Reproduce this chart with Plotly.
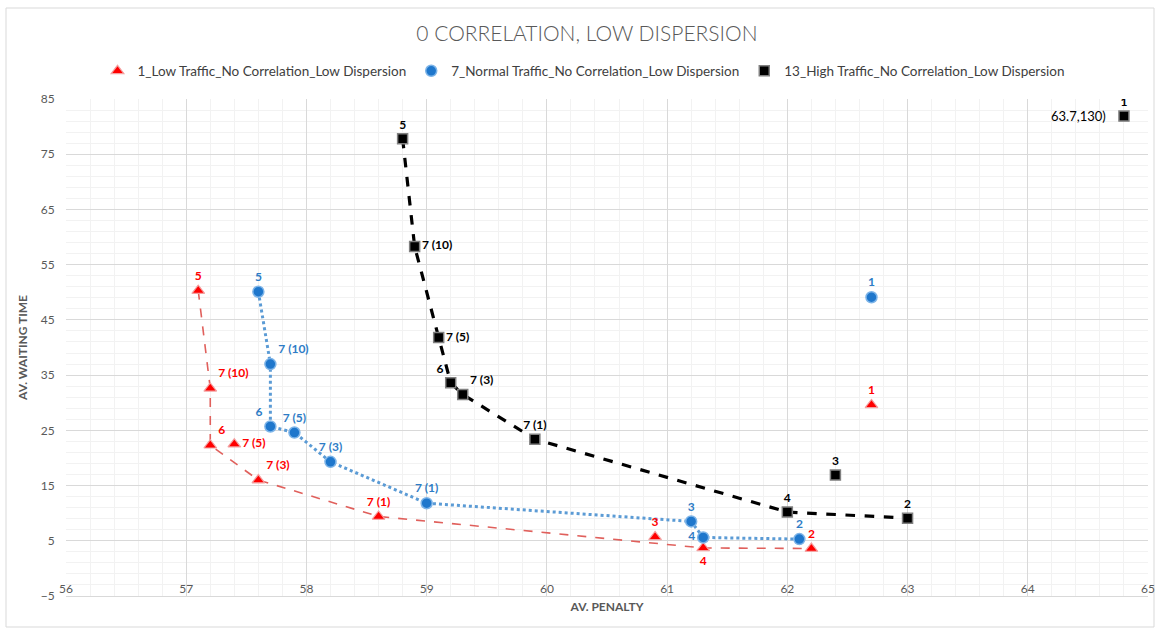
import plotly.graph_objects as go

# Point labels (scenario ids) shared by the three traffic levels
labels = ["1", "2", "3", "4", "5", "6", "7 (1)", "7 (3)", "7 (5)", "7 (10)"]

# Low traffic
low_penalty = [62.7, 62.2, 60.9, 61.3, 57.1, 57.2, 58.6, 57.6, 57.4, 57.2]
low_wait = [29.6, 3.6, 5.7, 3.7, 50.3, 22.3, 9.4, 16.0, 22.5, 32.6]

# Normal traffic
normal_penalty = [62.7, 62.1, 61.2, 61.3, 57.6, 57.7, 59.0, 58.2, 57.9, 57.7]
normal_wait = [49.1, 5.3, 8.5, 5.6, 50.1, 25.7, 11.8, 19.3, 24.6, 37.0]

# High traffic (point 1 is really at 63.7, 130 and is drawn at the chart edge)
high_penalty = [64.8, 63.0, 62.4, 62.0, 58.8, 59.2, 59.9, 59.3, 59.1, 58.9]
high_wait = [81.9, 9.1, 16.9, 10.2, 77.8, 33.6, 23.4, 31.5, 41.8, 58.3]
high_note = "63.7,130)"

# Pareto fronts, as sequences of labels
low_front = ["5", "7 (10)", "6", "7 (3)", "7 (1)", "4", "2"]
normal_front = ["5", "7 (10)", "6", "7 (5)", "7 (3)", "7 (1)", "3", "4", "2"]
high_front = ["5", "7 (10)", "7 (5)", "6", "7 (3)", "7 (1)", "4", "2"]

series_names = [
    "1_Low Traffic_No Correlation_Low Dispersion",
    "7_Normal Traffic_No Correlation_Low Dispersion",
    "13_High Traffic_No Correlation_Low Dispersion",
]

# label placement per point
low_pos = ["top center", "top center", "top center", "bottom center", "top center",
           "top right", "top center", "top right", "middle right", "top right"]
normal_pos = ["top center", "top center", "top center", "middle left", "top center",
              "top left", "top center", "top center", "top center", "top right"]
high_pos = ["top center", "top center", "top center", "top center", "top center",
            "top left", "top center", "top right", "middle right", "middle right"]

FONT = "Lato, 'Open Sans', sans-serif"

styles = [
    dict(color="#FF0000", line=dict(color="#F4A0A0", width=1.2),
         symbol="triangle-up", size=11, text="#FF0000",
         front=dict(color="#E0605C", width=1.6, dash="dash")),
    dict(color="#1F77CC", line=dict(color="#7DB4E8", width=1.5),
         symbol="circle", size=11, text="#2E7CC6",
         front=dict(color="#5B9BD5", width=3, dash="dot")),
    dict(color="#000000", line=dict(color="#808080", width=1.5),
         symbol="square", size=10, text="#000000",
         front=dict(color="#000000", width=3.2, dash="dash")),
]

data = [
    (low_penalty, low_wait, low_front, low_pos),
    (normal_penalty, normal_wait, normal_front, normal_pos),
    (high_penalty, high_wait, high_front, high_pos),
]

fig = go.Figure()

# front lines first, so markers sit on top
for (px, wy, front, _), st in zip(data, styles):
    idx = [labels.index(l) for l in front]
    fig.add_trace(go.Scatter(
        x=[px[i] for i in idx], y=[wy[i] for i in idx],
        mode="lines", line=st["front"], showlegend=False, hoverinfo="skip",
    ))

for (px, wy, _, pos), st, name in zip(data, styles, series_names):
    fig.add_trace(go.Scatter(
        x=px, y=wy, name=name, mode="markers+text",
        text=labels, textposition=pos,
        textfont=dict(family=FONT, size=12, color=st["text"], weight="bold"),
        marker=dict(symbol=st["symbol"], size=st["size"], color=st["color"],
                    line=st["line"]),
    ))

# note beside the clipped high-traffic point
fig.add_annotation(
    x=high_penalty[0], y=high_wait[0], text=high_note, showarrow=False,
    xanchor="right", yanchor="middle", xshift=-16,
    font=dict(family=FONT, size=13, color="#000000"),
)

fig.update_layout(
    width=1168, height=630,
    margin=dict(l=66, r=20, t=99, b=34),
    paper_bgcolor="white", plot_bgcolor="white",
    font=dict(family=FONT, color="#595959"),
    title=dict(text="0 CORRELATION, LOW DISPERSION", x=0.5025, xanchor="center",
               y=1 - 34 / 630, yanchor="middle",
               font=dict(family=FONT, size=21, color="#595959", weight=300)),
    legend=dict(orientation="h", x=0.4783, xanchor="center",
                y=(596 - 71) / 497, yanchor="middle",
                font=dict(family=FONT, size=13.5, color="#404040"),
                itemwidth=30, bgcolor="rgba(0,0,0,0)"),
    showlegend=True,
)

fig.update_xaxes(
    range=[56, 65], dtick=1, tick0=56,
    showgrid=True, gridcolor="#D9D9D9", gridwidth=1,
    minor=dict(dtick=0.2, showgrid=True, gridcolor="#F2F2F2", gridwidth=1),
    zeroline=False, showline=True, linecolor="#D9D9D9", linewidth=1,
    ticklabelposition="inside", ticklabeloverflow="allow",
    tickfont=dict(family=FONT, size=12, color="#595959"),
    title=dict(text="AV. PENALTY", standoff=7,
               font=dict(family=FONT, size=12, color="#595959", weight="bold")),
)

fig.update_yaxes(
    range=[-5, 85], dtick=10, tick0=-5,
    showgrid=True, gridcolor="#D9D9D9", gridwidth=1,
    minor=dict(dtick=2, tick0=-5, showgrid=True, gridcolor="#F2F2F2", gridwidth=1),
    zeroline=False, showline=False,
    ticks="outside", ticklen=8, tickcolor="rgba(0,0,0,0)",
    tickfont=dict(family=FONT, size=12, color="#595959"),
    title=dict(text="AV. WAITING TIME", standoff=10,
               font=dict(family=FONT, size=12, color="#595959", weight="bold")),
)

# outer chart border
fig.add_shape(type="rect", xref="paper", yref="paper",
              x0=(6 - 66) / 1082, x1=(1154 - 66) / 1082,
              y0=(596 - 627) / 497, y1=(596 - 8) / 497,
              line=dict(color="#D9D9D9", width=1), fillcolor="rgba(0,0,0,0)",
              layer="below")

fig.write_html("out.html")
